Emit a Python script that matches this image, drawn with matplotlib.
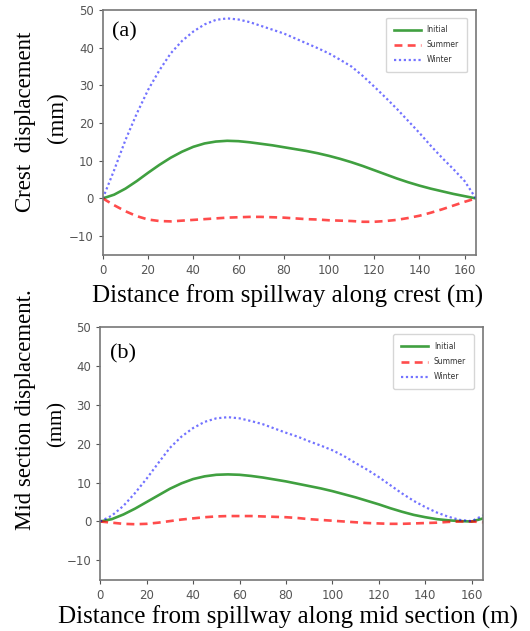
import matplotlib
matplotlib.use("Agg")
import matplotlib.pyplot as plt

# distances along the dam (m)
dist = [0, 5, 10, 15, 20, 25, 30, 35, 40, 45, 50, 55, 60, 65, 70, 75, 80,
        85, 90, 95, 100, 105, 110, 115, 120, 125, 130, 135, 140, 145, 150,
        155, 160, 165]

# (a) crest displacement (mm)
crest_initial = [0, 1.0, 2.6, 4.6, 6.8, 8.9, 10.8, 12.4, 13.7, 14.6, 15.1,
                 15.3, 15.2, 14.9, 14.5, 14.1, 13.6, 13.1, 12.6, 12.0, 11.3,
                 10.5, 9.6, 8.6, 7.5, 6.4, 5.3, 4.3, 3.4, 2.6, 1.9, 1.2, 0.6, 0]
crest_summer = [0, -1.8, -3.4, -4.7, -5.6, -6.0, -6.1, -5.9, -5.7, -5.5, -5.3,
                -5.1, -5.0, -4.9, -4.9, -5.0, -5.1, -5.3, -5.5, -5.6, -5.8,
                -5.9, -6.0, -6.2, -6.2, -6.0, -5.7, -5.2, -4.6, -3.8, -2.9,
                -1.9, -0.9, 0]
crest_winter = [0, 7.5, 15.5, 22.5, 28.8, 34.0, 38.5, 41.8, 44.3, 46.2, 47.4,
                47.8, 47.5, 46.8, 45.8, 44.8, 43.8, 42.5, 41.2, 39.9, 38.5,
                36.8, 35.0, 32.5, 29.7, 26.8, 23.8, 20.6, 17.4, 14.0, 10.8,
                7.8, 4.6, 0]

# (b) mid section displacement (mm)
mid_initial = [0, 0.6, 1.8, 3.3, 5.0, 6.7, 8.4, 9.8, 10.9, 11.6, 12.0, 12.1,
               12.0, 11.7, 11.3, 10.8, 10.3, 9.7, 9.1, 8.5, 7.8, 7.0, 6.2, 5.3,
               4.4, 3.4, 2.5, 1.7, 1.1, 0.6, 0.3, 0.1, 0.0, 0.8]
mid_summer = [0, -0.3, -0.6, -0.7, -0.6, -0.3, 0.1, 0.5, 0.8, 1.1, 1.3, 1.4,
              1.4, 1.4, 1.3, 1.2, 1.1, 0.9, 0.6, 0.4, 0.2, 0.0, -0.2, -0.4,
              -0.5, -0.6, -0.6, -0.5, -0.4, -0.3, -0.1, 0.0, 0.0, -0.2]
mid_winter = [0, 1.5, 4.0, 7.3, 11.0, 15.0, 18.9, 21.8, 24.0, 25.6, 26.5,
              26.8, 26.5, 25.8, 25.0, 23.9, 22.8, 21.8, 20.6, 19.5, 18.3,
              16.8, 15.0, 13.3, 11.4, 9.3, 7.2, 5.3, 3.7, 2.3, 1.2, 0.4, 0.1,
              1.6]

serif = "Liberation Serif"
gray = "#555555"

fig = plt.figure(figsize=(5.3, 6.31), dpi=100)
ax1 = fig.add_axes([0.194, 0.596, 0.704, 0.388])
ax2 = fig.add_axes([0.189, 0.081, 0.723, 0.401])


def draw(ax, ini, summ, wint, tag):
    ax.plot(dist, ini, color="green", lw=1.9, alpha=0.75, label="Initial")
    ax.plot(dist, summ, color="red", lw=1.9, ls=(0, (3, 2)), alpha=0.7,
            label="Summer")
    ax.plot(dist, wint, color="blue", lw=1.6, ls=(0, (1, 1.2)), alpha=0.55,
            label="Winter")
    ax.set_xlim(0, 165)
    ax.set_ylim(-15, 50)
    ax.set_xticks(range(0, 161, 20))
    ax.set_yticks(range(-10, 51, 10))
    ax.tick_params(labelsize=8.5, colors=gray, length=3)
    for s in ax.spines.values():
        s.set_color("#777777")
        s.set_linewidth(1.2)
    ax.text(0.025, 0.91 if tag == "(a)" else 0.895, tag, transform=ax.transAxes,
            fontsize=16, family=serif, va="center")
    ax.legend(loc="upper right", fontsize=5.5, handlelength=3.5,
              borderpad=1.0, labelspacing=0.8, bbox_to_anchor=(0.985, 0.985),
              labelcolor="#333333")


draw(ax1, crest_initial, crest_summer, crest_winter, "(a)")
draw(ax2, mid_initial, mid_summer, mid_winter, "(b)")

fig.text(288 / 530, 1 - 296 / 631, "Distance from spillway along crest (m)",
         fontsize=18, family=serif, ha="center", va="center")
fig.text(288 / 530, 1 - 617 / 631, "Distance from spillway along mid section (m)",
         fontsize=18, family=serif, ha="center", va="center")

fig.text(25 / 530, 1 - 122 / 631, "Crest  displacement", rotation=90,
         fontsize=16.5, family=serif, ha="center", va="center")
fig.text(57 / 530, 1 - 118 / 631, "(mm)", rotation=90,
         fontsize=16.5, family=serif, ha="center", va="center")
fig.text(26 / 530, 1 - 410 / 631, "Mid section displacement.", rotation=90,
         fontsize=16.5, family=serif, ha="center", va="center")
fig.text(57 / 530, 1 - 424 / 631, "(mm)", rotation=90,
         fontsize=15, family=serif, ha="center", va="center")

fig.savefig("out.png", dpi=100)
